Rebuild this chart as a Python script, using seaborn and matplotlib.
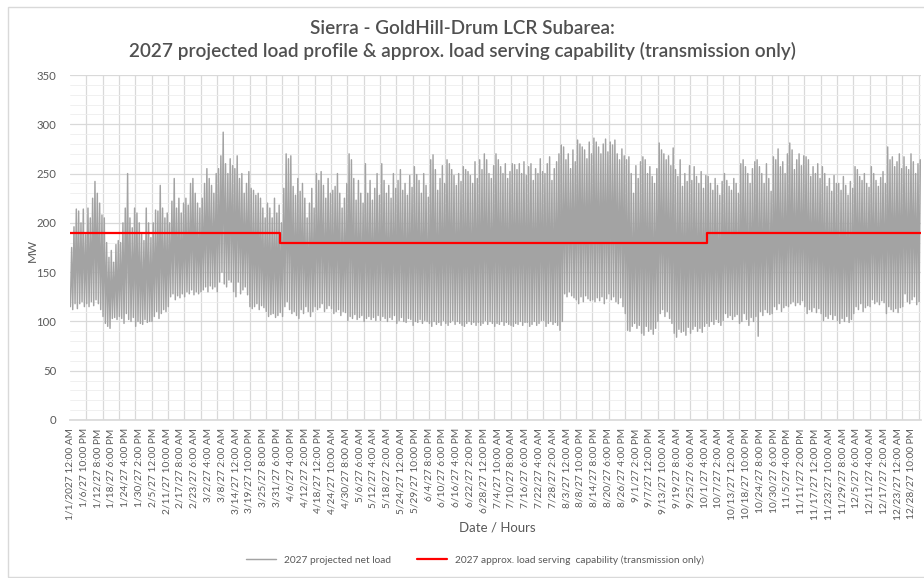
import numpy as np
import pandas as pd
import matplotlib
matplotlib.use("Agg")
import matplotlib.pyplot as plt
from matplotlib.patches import Rectangle
import seaborn as sns

# ---------------- data ----------------
# daily peak load (MW), one value per day of 2027
daily_peak = [
    175, 196, 214, 212, 200, 214, 188,
    215, 205, 225, 242, 230, 220, 208,
    205, 180, 165, 172, 160, 178, 182,
    180, 200, 215, 250, 205, 195, 215,
    210, 200, 190, 182, 215, 200, 185,
    200, 213, 212, 238, 215, 205, 210,
    200, 222, 245, 215, 225, 210, 220,
    225, 218, 240, 245, 230, 220, 215,
    225, 240, 255, 245, 238, 230, 250,
    255, 268, 292, 260, 250, 265, 258,
    255, 268, 245, 250, 230, 240, 252,
    235, 233, 228, 230, 225, 215, 205,
    220, 215, 205, 225, 210, 218, 200,
    235, 270, 265, 268, 237, 228, 245,
    232, 240, 225, 205, 220, 235, 215,
    250, 243, 252, 238, 225, 245, 230,
    233, 237, 250, 230, 215, 225, 240,
    270, 264, 245, 223, 243, 230, 220,
    260, 230, 243, 223, 235, 250, 228,
    260, 243, 230, 238, 225, 250, 235,
    243, 254, 233, 240, 228, 248, 236,
    257, 249, 243, 230, 250, 238, 226,
    264, 269, 254, 233, 245, 258, 240,
    264, 260, 254, 248, 238, 250, 242,
    257, 254, 252, 248, 240, 262, 245,
    264, 254, 270, 264, 250, 245, 258,
    270, 264, 257, 250, 260, 245, 252,
    260, 259, 254, 260, 250, 262, 248,
    257, 260, 243, 255, 250, 265, 252,
    250, 260, 267, 243, 255, 262, 270,
    279, 277, 264, 270, 255, 274, 262,
    284, 280, 277, 274, 265, 282, 270,
    286, 282, 277, 270, 280, 285, 272,
    282, 279, 284, 270, 264, 275, 268,
    264, 267, 250, 230, 258, 245, 262,
    267, 264, 250, 257, 247, 240, 255,
    281, 274, 270, 264, 268, 258, 276,
    254, 247, 264, 237, 250, 242, 258,
    243, 257, 247, 240, 252, 235, 248,
    247, 240, 233, 245, 238, 228, 242,
    250, 243, 237, 233, 245, 240, 230,
    260, 264, 257, 250, 240, 255, 262,
    264, 257, 250, 240, 260, 245, 232,
    267, 264, 275, 257, 262, 250, 270,
    281, 274, 254, 264, 270, 258, 268,
    267, 264, 247, 257, 250, 260, 245,
    257, 250, 237, 245, 232, 248, 240,
    240, 233, 247, 238, 228, 242, 235,
    257, 254, 247, 243, 250, 240, 236,
    257, 250, 243, 237, 246, 252, 240,
    277, 264, 267, 257, 262, 270, 255,
    267, 257, 254, 270, 262, 250, 260,
    264,
]

# daily minimum load (MW), one value per day of 2027
daily_min = [
    115, 112, 118, 113, 118, 120, 115,
    118, 115, 120, 116, 122, 118, 112,
    105, 98, 95, 93, 103, 104, 102,
    105, 103, 98, 108, 102, 100, 104,
    95, 100, 98, 97, 102, 99, 100,
    100, 105, 110, 103, 108, 112, 110,
    115, 125, 128, 122, 126, 124, 128,
    125, 130, 128, 132, 127, 130, 128,
    130, 132, 135, 130, 136, 133, 135,
    130, 140, 150, 138, 135, 142, 140,
    130, 125, 140, 128, 132, 135, 127,
    115, 113, 115, 118, 112, 116, 114,
    110, 105, 107, 108, 104, 106, 109,
    105, 115, 120, 112, 108, 110, 106,
    103, 112, 108, 115, 110, 105, 110,
    115, 112, 114, 118, 110, 113, 116,
    113, 108, 110, 112, 106, 110, 109,
    101, 105, 103, 107, 102, 104, 106,
    100, 103, 105, 102, 104, 101, 106,
    101, 105, 103, 100, 104, 102, 106,
    98, 101, 104, 100, 99, 103, 102,
    96, 100, 99, 102, 98, 101, 100,
    98, 95, 100, 97, 99, 96, 101,
    98, 96, 99, 101, 97, 100, 98,
    96, 95, 98, 100, 97, 99, 96,
    99, 96, 98, 101, 97, 100, 98,
    95, 98, 97, 100, 96, 99, 97,
    96, 95, 98, 97, 100, 96, 99,
    99, 95, 97, 100, 96, 98, 101,
    101, 95, 98, 100, 97, 99, 96,
    91, 100, 128, 125, 130, 126, 124,
    122, 118, 125, 120, 126, 123, 121,
    122, 120, 124, 121, 125, 118, 123,
    128, 122, 125, 120, 118, 124, 115,
    108, 91, 90, 95, 98, 93, 96,
    88, 86, 95, 90, 92, 87, 93,
    100, 108, 112, 105, 110, 103, 98,
    88, 84, 92, 89, 90, 86, 94,
    88, 92, 95, 90, 93, 89, 95,
    98, 95, 100, 97, 102, 99, 96,
    101, 108, 104, 106, 102, 105, 107,
    98, 100, 108, 102, 96, 104, 100,
    105, 85, 110, 106, 112, 109, 107,
    108, 115, 112, 118, 110, 114, 116,
    115, 118, 120, 116, 119, 117, 121,
    115, 108, 112, 110, 114, 109, 113,
    108, 101, 105, 103, 107, 102, 106,
    101, 98, 103, 100, 105, 99, 102,
    108, 115, 112, 118, 110, 114, 116,
    115, 122, 118, 120, 117, 121, 119,
    108, 115, 112, 110, 113, 109, 114,
    115, 128, 120, 118, 122, 125, 117,
    120,
]

# approx. load serving capability (transmission only), per month
month_days = [31, 28, 31, 30, 31, 30, 31, 31, 30, 31, 30, 31]
capability = [190, 190, 190, 180, 180, 180, 180, 180, 180, 190, 190, 190]

tick_labels = [
    "1/1/2027 12:00 AM", "1/6/27 10:00 PM", "1/12/27 8:00 PM", "1/18/27 6:00 PM",
    "1/24/27 4:00 PM", "1/30/27 2:00 PM", "2/5/27 12:00 PM", "2/11/27 10:00 AM",
    "2/17/27 8:00 AM", "2/23/27 6:00 AM", "3/2/27 4:00 AM", "3/8/27 2:00 AM",
    "3/14/27 12:00 AM", "3/19/27 10:00 PM", "3/25/27 8:00 PM", "3/31/27 6:00 PM",
    "4/6/27 4:00 PM", "4/12/27 2:00 PM", "4/18/27 12:00 PM", "4/24/27 10:00 AM",
    "4/30/27 8:00 AM", "5/6/27 6:00 AM", "5/12/27 4:00 AM", "5/18/27 2:00 AM",
    "5/24/27 12:00 AM", "5/29/27 10:00 PM", "6/4/27 8:00 PM", "6/10/27 6:00 PM",
    "6/16/27 4:00 PM", "6/22/27 2:00 PM", "6/28/27 12:00 PM", "7/4/27 10:00 AM",
    "7/10/27 8:00 AM", "7/16/27 6:00 AM", "7/22/27 4:00 AM", "7/28/27 2:00 AM",
    "8/3/27 12:00 AM", "8/8/27 10:00 PM", "8/14/27 8:00 PM", "8/20/27 6:00 PM",
    "8/26/27 4:00 PM", "9/1/27 2:00 PM", "9/7/27 12:00 PM", "9/13/27 10:00 AM",
    "9/19/27 8:00 AM", "9/25/27 6:00 AM", "10/1/27 4:00 AM", "10/7/27 2:00 AM",
    "10/13/27 12:00 AM", "10/18/27 10:00 PM", "10/24/27 8:00 PM", "10/30/27 6:00 PM",
    "11/5/27 4:00 PM", "11/11/27 2:00 PM", "11/17/27 12:00 PM", "11/23/27 10:00 AM",
    "11/29/27 8:00 AM", "12/5/27 6:00 AM", "12/11/27 4:00 AM", "12/17/27 2:00 AM",
    "12/23/27 12:00 AM", "12/28/27 10:00 PM",
]

load_label = "2027 projected net load"
cap_label = "2027 approx. load serving  capability (transmission only)"
title_lines = ["Sierra - GoldHill-Drum LCR Subarea:",
               "2027 projected load profile & approx. load serving capability (transmission only)"]

# ---------------- build frames ----------------
n_days = len(daily_peak)
hours, loads = [], []
for d in range(n_days):
    hours += [24 * d + 4, 24 * d + 17]
    loads += [daily_min[d], daily_peak[d]]
load_df = pd.DataFrame({"hour": hours, "MW": loads})

month_start = np.concatenate([[0], np.cumsum(month_days)]) * 24
cap_df = pd.DataFrame({"hour": month_start,
                       "MW": capability + [capability[-1]]})

# ---------------- plot ----------------
sns.set_theme(style="white")
FONT = ["Lato", "DejaVu Sans"]
plt.rcParams["font.family"] = FONT
TXT = "#595959"

W, H = 924, 578
fig = plt.figure(figsize=(W / 100, H / 100), dpi=100)
fig.patch.set_facecolor("white")
fig.add_artist(Rectangle((8 / W, 1 / H), 1.2, 1 - 8 / H, transform=fig.transFigure,
                         fill=False, edgecolor="#D9D9D9", lw=1.0))

ax = fig.add_axes([70 / W, (H - 420) / H, 851 / W, 345 / H])

sns.lineplot(data=load_df, x="hour", y="MW", ax=ax, color="#A3A3A3", lw=1.05,
             estimator=None, sort=False, label=load_label)
sns.lineplot(data=cap_df, x="hour", y="MW", ax=ax, color="#FF0000", lw=1.6,
             estimator=None, sort=False, drawstyle="steps-post", label=cap_label)

ax.set_xlim(0, 8760)
ax.set_ylim(0, 350)
ax.set_yticks(np.arange(0, 351, 50))
ax.set_yticks(np.arange(0, 351, 10), minor=True)
ax.set_xticks(np.arange(len(tick_labels)) * 142)
ax.set_xticklabels(tick_labels, rotation=90, fontsize=7.3, color=TXT)
ax.set_xticks(np.arange(0, 8761, 168), minor=True)
ax.tick_params(axis="y", which="both", length=0, labelsize=8.2, labelcolor=TXT, pad=10)
ax.tick_params(axis="x", which="major", length=3, color="#D9D9D9", pad=3)
ax.tick_params(axis="x", which="minor", length=0)

ax.grid(False)
ax.grid(axis="y", which="major", color="#D9D9D9", lw=0.9)
ax.grid(axis="y", which="minor", color="#EEEEEE", lw=0.6)
ax.grid(axis="x", which="minor", color="#D9D9D9", lw=0.9)
ax.set_axisbelow(True)
for s in ["top", "right", "left"]:
    ax.spines[s].set_visible(False)
ax.spines["bottom"].set_color("#D9D9D9")
ax.set_xlabel("")
ax.set_ylabel("")

fig.text(32 / W, 1 - 250 / H, "MW", rotation=90, ha="center", va="center",
         fontsize=8.5, color=TXT)
fig.text(497 / W, 1 - 528 / H, "Date / Hours", ha="center", va="center",
         fontsize=9.5, color=TXT)
fig.text(462 / W, 1 - 29 / H, title_lines[0], ha="center", va="center",
         fontsize=13.6, color="#505050", fontweight="semibold")
fig.text(462 / W, 1 - 51 / H, title_lines[1], ha="center", va="center",
         fontsize=13.6, color="#505050", fontweight="semibold")

ax.legend(loc="center", bbox_to_anchor=(475 / W, 1 - 560 / H),
          bbox_transform=fig.transFigure, ncol=2, frameon=False, fontsize=7.3,
          labelcolor=TXT, handlelength=3, columnspacing=2.5)

fig.savefig("out.png", dpi=100)
